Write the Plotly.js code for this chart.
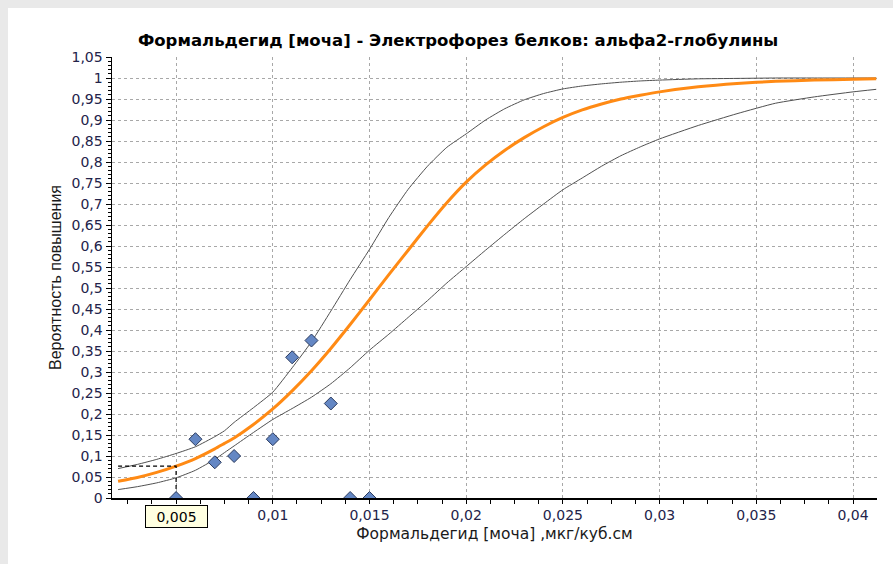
<!DOCTYPE html>
<html>
<head>
<meta charset="utf-8">
<script src="https://cdn.plot.ly/plotly-3.0.1.min.js"></script>
<style>html,body{margin:0;padding:0;background:#fff;}#chart{width:893px;height:564px;}</style>
</head>
<body>
<div id="chart"></div>
<script>
// Observed points
const pointsX = [0.005, 0.006, 0.007, 0.008, 0.009, 0.010, 0.011, 0.012, 0.013, 0.014, 0.015];
const pointsY = [0, 0.14, 0.085, 0.10, 0, 0.14, 0.335, 0.375, 0.225, 0, 0];

// Curves
const curveX = [0.002,0.003,0.004,0.005,0.006,0.007,0.0075,0.008,0.009,0.010,0.011,0.012,0.013,0.014,0.015,0.016,0.017,0.018,0.019,0.020,0.021,0.022,0.023,0.024,0.025,0.026,0.027,0.028,0.029,0.030,0.032,0.034,0.036,0.038,0.040,0.0412];
const fitY   = [0.040,0.049,0.061,0.076,0.094,0.117,0.130,0.143,0.175,0.212,0.255,0.303,0.356,0.413,0.472,0.532,0.590,0.648,0.703,0.752,0.793,0.828,0.858,0.884,0.906,0.924,0.938,0.950,0.959,0.967,0.979,0.987,0.992,0.995,0.997,0.998];
const upperY = [0.070,0.080,0.092,0.106,0.122,0.146,0.160,0.180,0.215,0.252,0.310,0.372,0.445,0.520,0.592,0.668,0.735,0.790,0.835,0.867,0.900,0.927,0.948,0.963,0.974,0.981,0.986,0.990,0.993,0.995,0.998,0.999,1.0,1.0,1.0,1.0];
const lowerY = [0.020,0.027,0.036,0.048,0.066,0.092,0.108,0.124,0.156,0.187,0.213,0.240,0.272,0.310,0.352,0.390,0.430,0.470,0.512,0.551,0.590,0.628,0.665,0.700,0.734,0.762,0.790,0.815,0.836,0.855,0.887,0.915,0.940,0.955,0.967,0.973];

// Crosshair at selected concentration
const crossX = [0.002, 0.005, 0.005];
const crossY = [0.076, 0.076, 0];
const crossLabel = '0,005';

// Tick labels
const xTickVals = [0.005,0.01,0.015,0.02,0.025,0.03,0.035,0.04];
const xTickText = ['0,005','0,01','0,015','0,02','0,025','0,03','0,035','0,04'];
const yTickVals = [0,0.05,0.1,0.15,0.2,0.25,0.3,0.35,0.4,0.45,0.5,0.55,0.6,0.65,0.7,0.75,0.8,0.85,0.9,0.95,1,1.05];
const yTickText = ['0','0,05','0,1','0,15','0,2','0,25','0,3','0,35','0,4','0,45','0,5','0,55','0,6','0,65','0,7','0,75','0,8','0,85','0,9','0,95','1','1,05'];

const titleText = 'Формальдегид [моча] - Электрофорез белков: альфа2-глобулины';
const xTitle = 'Формальдегид [моча] ,мкг/куб.см';
const yTitle = 'Вероятность повышения';

const tickFont = {family: 'DejaVu Sans', size: 14, color: '#23234a'};

const traces = [
  {x: curveX, y: upperY, mode: 'lines', line: {color: '#505050', width: 1, shape: 'spline', smoothing: 0.5}, hoverinfo: 'skip'},
  {x: curveX, y: lowerY, mode: 'lines', line: {color: '#505050', width: 1, shape: 'spline', smoothing: 0.5}, hoverinfo: 'skip'},
  {x: curveX, y: fitY, mode: 'lines', line: {color: '#ff8a14', width: 3, shape: 'spline', smoothing: 0.5}, hoverinfo: 'skip'},
  {x: crossX, y: crossY, mode: 'lines', line: {color: '#000', width: 1.2, dash: '4px,3px'}, hoverinfo: 'skip'},
  {x: pointsX, y: pointsY, mode: 'markers', marker: {symbol: 'diamond', size: 10, color: '#6487c4', line: {color: '#2b3b5e', width: 1}}}
];

const layout = {
  width: 893, height: 564,
  showlegend: false,
  paper_bgcolor: '#ffffff',
  plot_bgcolor: '#ffffff',
  margin: {l: 112, r: 16, t: 57, b: 66, pad: 0},
  title: {text: '<b>' + titleText + '</b>', font: {family: 'DejaVu Sans', size: 16.5, color: '#000'}, x: 0.513, xanchor: 'center', y: 0.928, yanchor: 'middle'},
  xaxis: {
    range: [0.001686, 0.04124],
    tickmode: 'array', tickvals: xTickVals, ticktext: xTickText,
    tickfont: tickFont,
    ticks: 'outside', ticklen: 4, tickcolor: '#000',
    minor: {tickmode: 'linear', tick0: 0, dtick: 0.00125, ticks: 'outside', ticklen: 4, tickcolor: '#000', showgrid: false},
    showline: true, linecolor: '#000', linewidth: 1.5,
    showgrid: true, gridcolor: '#a8a8a8', gridwidth: 1, griddash: 'dot',
    zeroline: false,
    title: {text: xTitle, font: {family: 'DejaVu Sans', size: 15.5, color: '#1a1a1a'}, standoff: 6}
  },
  yaxis: {
    range: [0, 1.05],
    tickmode: 'array', tickvals: yTickVals, ticktext: yTickText,
    tickfont: tickFont,
    ticks: 'outside', ticklen: 5, tickcolor: '#000',
    minor: {tickmode: 'linear', tick0: 0, dtick: 0.01, ticks: 'outside', ticklen: 3, tickcolor: '#000', showgrid: false},
    showline: true, linecolor: '#000', linewidth: 1.5,
    showgrid: true, gridcolor: '#a8a8a8', gridwidth: 1, griddash: 'dot',
    zeroline: false,
    title: {text: yTitle, font: {family: 'Liberation Sans', size: 16, color: '#1a1a1a'}, standoff: 6}
  },
  shapes: [
    {type: 'rect', xref: 'paper', yref: 'paper', x0: -0.2, x1: 1.1, y0: (497.5-8)/440.5, y1: 1.3, fillcolor: '#e9e9e9', line: {width: 0}, layer: 'below'},
    {type: 'rect', xref: 'paper', yref: 'paper', x0: -0.2, x1: (8-112)/765, y0: -0.3, y1: 1.3, fillcolor: '#e9e9e9', line: {width: 0}, layer: 'below'}
  ],
  annotations: [
    {x: crossX[1], xref: 'x', y: -0.042, yref: 'paper', yanchor: 'middle', text: crossLabel, showarrow: false,
     width: 57, height: 17, align: 'center', valign: 'middle',
     font: {family: 'DejaVu Sans', size: 14, color: '#000'}, bgcolor: '#ffffe1', bordercolor: '#000', borderwidth: 1, borderpad: 2}
  ]
};

Plotly.newPlot('chart', traces, layout, {displayModeBar: false, staticPlot: true});
</script>
</body>
</html>
